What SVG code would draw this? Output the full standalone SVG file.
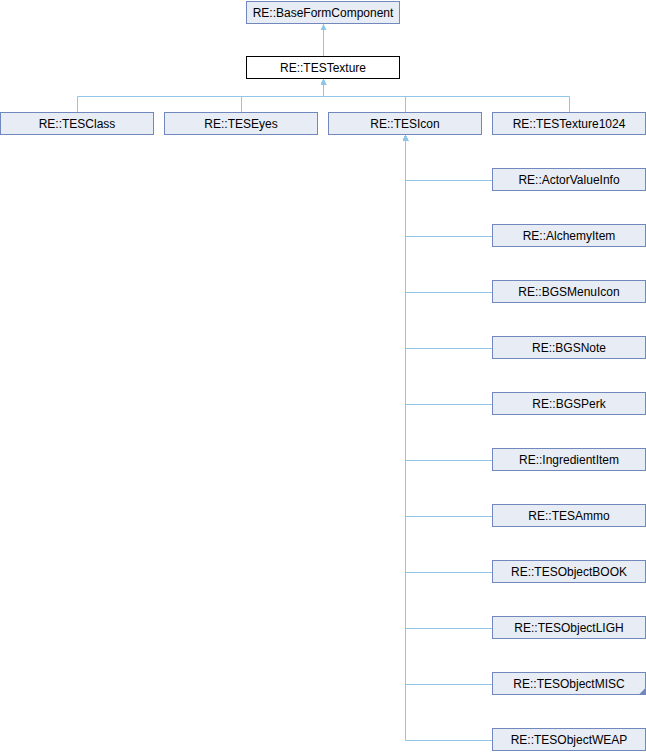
<svg xmlns="http://www.w3.org/2000/svg" width="646" height="752" viewBox="0 0 646 752">
<defs>
<style>
.n rect{fill:#e8ecf4;stroke:#7088bd;stroke-width:1}
.cur rect{fill:#ffffff;stroke:#000000}
text{font-family:"Liberation Sans",Arial,sans-serif;font-size:12px;fill:#000;text-anchor:middle}
.e path{fill:none;stroke:#8fc6e8;stroke-width:1}
</style>
<marker id="ah" viewBox="0 0 10 10" refX="10" refY="5" markerWidth="6" markerHeight="6" markerUnits="userSpaceOnUse" orient="auto">
<path d="M0,0 L10,5 L0,10 z" fill="#8fc6e8"/>
</marker>
</defs>
<rect width="646" height="752" fill="#fff"/>
<g id="edges" class="e">
<path d="M323.5,56.5 V24" marker-end="url(#ah)"/>
<path d="M77.5,112.5 V96.5 H323.5 V79" marker-end="url(#ah)"/>
<path d="M241.5,112.5 V96.5 H323.5 V79" marker-end="url(#ah)"/>
<path d="M405.5,112.5 V96.5 H323.5 V79" marker-end="url(#ah)"/>
<path d="M569.5,112.5 V96.5 H323.5 V79" marker-end="url(#ah)"/>
<path d="M492.5,180.5 H405.5 V135" marker-end="url(#ah)"/>
<path d="M492.5,236.5 H405.5 V135" marker-end="url(#ah)"/>
<path d="M492.5,292.5 H405.5 V135" marker-end="url(#ah)"/>
<path d="M492.5,348.5 H405.5 V135" marker-end="url(#ah)"/>
<path d="M492.5,404.5 H405.5 V135" marker-end="url(#ah)"/>
<path d="M492.5,460.5 H405.5 V135" marker-end="url(#ah)"/>
<path d="M492.5,516.5 H405.5 V135" marker-end="url(#ah)"/>
<path d="M492.5,572.5 H405.5 V135" marker-end="url(#ah)"/>
<path d="M492.5,628.5 H405.5 V135" marker-end="url(#ah)"/>
<path d="M492.5,684.5 H405.5 V135" marker-end="url(#ah)"/>
<path d="M492.5,740.5 H405.5 V135" marker-end="url(#ah)"/>
</g>
<g id="BaseFormComponent" class="n"><rect x="246.5" y="1.5" width="153" height="22"/><text x="323" y="17">RE::BaseFormComponent</text></g>
<g id="TESTexture" class="n cur"><rect x="246.5" y="56.5" width="153" height="22"/><text x="323" y="72">RE::TESTexture</text></g>
<g id="TESClass" class="n"><rect x="0.5" y="112.5" width="153" height="22"/><text x="77" y="128">RE::TESClass</text></g>
<g id="TESEyes" class="n"><rect x="164.5" y="112.5" width="153" height="22"/><text x="241" y="128">RE::TESEyes</text></g>
<g id="TESIcon" class="n"><rect x="328.5" y="112.5" width="153" height="22"/><text x="405" y="128">RE::TESIcon</text></g>
<g id="TESTexture1024" class="n"><rect x="492.5" y="112.5" width="153" height="22"/><text x="569" y="128">RE::TESTexture1024</text></g>
<g id="ActorValueInfo" class="n"><rect x="492.5" y="168.5" width="153" height="22"/><text x="569" y="184">RE::ActorValueInfo</text></g>
<g id="AlchemyItem" class="n"><rect x="492.5" y="224.5" width="153" height="22"/><text x="569" y="240">RE::AlchemyItem</text></g>
<g id="BGSMenuIcon" class="n"><rect x="492.5" y="280.5" width="153" height="22"/><text x="569" y="296">RE::BGSMenuIcon</text></g>
<g id="BGSNote" class="n"><rect x="492.5" y="336.5" width="153" height="22"/><text x="569" y="352">RE::BGSNote</text></g>
<g id="BGSPerk" class="n"><rect x="492.5" y="392.5" width="153" height="22"/><text x="569" y="408">RE::BGSPerk</text></g>
<g id="IngredientItem" class="n"><rect x="492.5" y="448.5" width="153" height="22"/><text x="569" y="464">RE::IngredientItem</text></g>
<g id="TESAmmo" class="n"><rect x="492.5" y="504.5" width="153" height="22"/><text x="569" y="520">RE::TESAmmo</text></g>
<g id="TESObjectBOOK" class="n"><rect x="492.5" y="560.5" width="153" height="22"/><text x="569" y="576">RE::TESObjectBOOK</text></g>
<g id="TESObjectLIGH" class="n"><rect x="492.5" y="616.5" width="153" height="22"/><text x="569" y="632">RE::TESObjectLIGH</text></g>
<g id="TESObjectMISC" class="n"><rect x="492.5" y="672.5" width="153" height="22"/><polygon points="645.5,688 645.5,694.5 639,694.5" fill="#7088bd"/><text x="569" y="688">RE::TESObjectMISC</text></g>
<g id="TESObjectWEAP" class="n"><rect x="492.5" y="728.5" width="153" height="22"/><text x="569" y="744">RE::TESObjectWEAP</text></g>
</svg>
